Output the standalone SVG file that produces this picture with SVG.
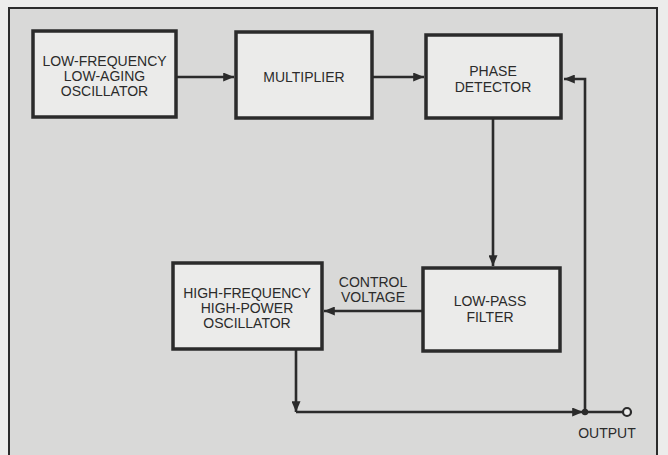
<svg xmlns="http://www.w3.org/2000/svg" width="668" height="455" viewBox="0 0 668 455">
<defs>
<marker id="arr" viewBox="0 0 12 10" refX="12" refY="5" markerWidth="12" markerHeight="9" markerUnits="userSpaceOnUse" orient="auto">
<path d="M0,0 L12,5 L0,10 z" fill="#2b2b2b"/>
</marker>
</defs>
<style>
.box{fill:#ebebea;stroke:#2b2b2b;stroke-width:3.5}
.t{font-family:"Liberation Sans",Arial,sans-serif;font-size:14px;fill:#2b2b2b;text-anchor:middle}
.c{fill:none;stroke:#2b2b2b;stroke-width:2.6}
</style>
<rect x="0" y="0" width="668" height="455" fill="#ececeb"/>
<rect id="frame" x="9" y="8" width="648" height="460" fill="#d9d9d8" stroke="#2b2b2b" stroke-width="2"/>
<g id="connectors">
<line class="c" x1="176" y1="77" x2="234" y2="77" marker-end="url(#arr)"/>
<line class="c" x1="372" y1="77" x2="424" y2="77" marker-end="url(#arr)"/>
<line class="c" x1="493" y1="118" x2="493" y2="266" marker-end="url(#arr)"/>
<line class="c" x1="423" y1="311" x2="324" y2="311" marker-end="url(#arr)"/>
<line class="c" x1="296" y1="349" x2="296" y2="412" marker-end="url(#arr)"/>
<line class="c" x1="296" y1="412" x2="583" y2="412" marker-end="url(#arr)"/>
<polyline class="c" points="585,412 585,79 564,79" marker-end="url(#arr)"/>
<line class="c" x1="585" y1="412" x2="623" y2="412"/>
<circle cx="585" cy="412" r="3.2" fill="#2b2b2b"/>
<circle cx="627" cy="412" r="4" fill="#ececeb" stroke="#2b2b2b" stroke-width="2.2"/>
<text class="t" x="607" y="438">OUTPUT</text>
<text class="t" x="373" y="287">CONTROL</text>
<text class="t" x="373" y="302">VOLTAGE</text>
</g>
<g id="lf-osc">
<rect class="box" x="33" y="31" width="143" height="86"/>
<text class="t" x="104.5" y="66">LOW-FREQUENCY</text>
<text class="t" x="104.5" y="81">LOW-AGING</text>
<text class="t" x="104.5" y="96">OSCILLATOR</text>
</g>
<g id="multiplier">
<rect class="box" x="236" y="32" width="136" height="86"/>
<text class="t" x="304" y="82">MULTIPLIER</text>
</g>
<g id="phase-detector">
<rect class="box" x="426" y="35" width="135" height="83"/>
<text class="t" x="493" y="76">PHASE</text>
<text class="t" x="493" y="92">DETECTOR</text>
</g>
<g id="low-pass">
<rect class="box" x="423" y="268" width="137" height="83"/>
<text class="t" x="490" y="306">LOW-PASS</text>
<text class="t" x="490" y="322">FILTER</text>
</g>
<g id="hf-osc">
<rect class="box" x="173" y="263" width="149" height="86"/>
<text class="t" x="247" y="298">HIGH-FREQUENCY</text>
<text class="t" x="247" y="313">HIGH-POWER</text>
<text class="t" x="247" y="328">OSCILLATOR</text>
</g>
</svg>
